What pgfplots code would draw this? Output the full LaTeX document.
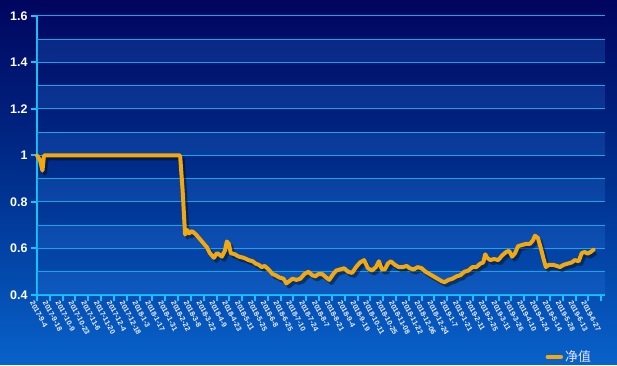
\documentclass[border=0pt]{standalone}
\usepackage{pgfplots}
\pgfplotsset{compat=1.18}
\usepackage{fontspec}
\setmainfont{Liberation Sans}
\newfontfamily\cjk{Noto Sans CJK SC}
\definecolor{bgtop}{HTML}{00055E}
\definecolor{bgmid}{HTML}{00308E}
\definecolor{bgbot}{HTML}{0862CA}
\definecolor{bandc}{HTML}{2A78E0}
\definecolor{gridc}{HTML}{14A6E6}
\definecolor{axc}{HTML}{12C4F8}
\definecolor{linec}{HTML}{F2A80E}
\pgfplotstableread{
x y
0.000 1.000
0.233 0.980
0.426 0.935
0.543 1.000
11.163 1.000
11.357 0.850
11.550 0.660
11.705 0.680
11.860 0.665
12.093 0.675
12.403 0.660
12.713 0.640
13.023 0.620
13.256 0.605
13.488 0.580
13.798 0.560
14.031 0.580
14.186 0.575
14.419 0.565
14.651 0.590
14.806 0.630
14.961 0.620
15.116 0.580
15.426 0.575
15.736 0.565
16.124 0.560
16.512 0.550
16.822 0.545
17.054 0.535
17.287 0.530
17.519 0.520
17.752 0.525
18.062 0.510
18.372 0.490
18.605 0.485
18.915 0.475
19.225 0.470
19.457 0.450
19.690 0.460
19.922 0.470
20.233 0.465
20.543 0.470
20.853 0.490
21.163 0.500
21.473 0.485
21.705 0.480
21.938 0.490
22.248 0.490
22.558 0.475
22.791 0.465
23.101 0.490
23.333 0.505
23.643 0.510
23.953 0.515
24.264 0.500
24.574 0.495
24.884 0.520
25.194 0.540
25.504 0.550
25.814 0.515
26.124 0.505
26.434 0.520
26.667 0.545
26.899 0.510
27.132 0.510
27.364 0.535
27.597 0.545
27.907 0.530
28.217 0.520
28.527 0.520
28.837 0.525
29.070 0.515
29.380 0.510
29.690 0.520
30.000 0.515
30.310 0.500
30.620 0.490
30.930 0.480
31.240 0.470
31.550 0.460
31.783 0.455
32.093 0.465
32.403 0.470
32.713 0.480
33.023 0.485
33.333 0.500
33.643 0.505
33.953 0.520
34.264 0.520
34.574 0.535
34.806 0.540
34.961 0.575
35.116 0.560
35.349 0.550
35.659 0.555
35.969 0.550
36.279 0.570
36.589 0.585
36.822 0.590
37.054 0.565
37.287 0.580
37.519 0.610
37.829 0.615
38.140 0.620
38.450 0.620
38.682 0.635
38.837 0.655
39.070 0.645
39.302 0.600
39.535 0.550
39.690 0.520
39.922 0.530
40.233 0.530
40.543 0.525
40.775 0.520
41.085 0.530
41.395 0.535
41.705 0.540
41.938 0.550
42.248 0.545
42.481 0.580
42.713 0.585
42.946 0.578
43.178 0.585
43.411 0.595
}\navdata
\begin{document}
\begin{tikzpicture}
\shade[top color=bgtop, bottom color=bgbot, middle color=bgmid] (0,0) rectangle (617bp,365bp);
\begin{axis}[
  at={(37bp,70bp)}, anchor=south west,
  scale only axis, width=568bp, height=279bp,
  xmin=0, xmax=44.3, ymin=0.4, ymax=1.6,
  axis x line*=bottom, axis y line*=left,
  axis line style={draw=axc, line width=2bp},
  tick align=outside,
  major tick length=6bp,
  every tick/.style={draw=axc, line width=2bp},
  xtick={0,...,44},
  xticklabels={2017-9-4,2017-9-18,2017-10-9,2017-10-23,2017-11-6,2017-11-20,2017-12-4,2017-12-18,2018-1-3,2018-1-17,2018-1-31,2018-2-22,2018-3-8,2018-3-22,2018-4-9,2018-4-23,2018-5-11,2018-5-25,2018-6-8,2018-6-25,2018-7-10,2018-7-24,2018-8-7,2018-8-21,2018-9-4,2018-9-19,2018-10-11,2018-10-25,2018-11-08,2018-11-22,2018-12-06,2018-12-24,2019-1-7,2019-1-21,2019-2-11,2019-2-25,2019-3-11,2019-3-26,2019-4-10,2019-4-24,2019-5-14,2019-5-28,2019-6-13,2019-6-27,{}},
  xticklabel style={font=\fontsize{7.3}{8}\selectfont\bfseries, text=white!94!blue, rotate=-62, anchor=north west, inner sep=0.3pt, xshift=-2.5bp, yshift=-1.5bp},
  ytick={0.4,0.6,...,1.61},
  yticklabel style={font=\fontsize{12.5}{14}\selectfont\bfseries, text=white},
  /pgf/number format/assume math mode=true,
  legend style={at={(0.895,-0.222)}, anchor=west, draw=none, fill=none, text=white!90!blue, font=\cjk\fontsize{13}{15}\selectfont, inner sep=0pt},
  legend image code/.code={\draw[#1, line width=4.5bp, line cap=round] (0bp,0bp) -- (13bp,0bp);},
  clip=false,
]
\addplot[fill=bandc, fill opacity=0.25, draw=none, forget plot] coordinates {(0,0.4) (44.3,0.4) (44.3,0.5) (0,0.5)} -- cycle;
\addplot[fill=bandc, fill opacity=0.25, draw=none, forget plot] coordinates {(0,0.6) (44.3,0.6) (44.3,0.7) (0,0.7)} -- cycle;
\addplot[fill=bandc, fill opacity=0.25, draw=none, forget plot] coordinates {(0,0.8) (44.3,0.8) (44.3,0.9) (0,0.9)} -- cycle;
\addplot[fill=bandc, fill opacity=0.25, draw=none, forget plot] coordinates {(0,1.0) (44.3,1.0) (44.3,1.1) (0,1.1)} -- cycle;
\addplot[fill=bandc, fill opacity=0.25, draw=none, forget plot] coordinates {(0,1.2) (44.3,1.2) (44.3,1.3) (0,1.3)} -- cycle;
\addplot[fill=bandc, fill opacity=0.25, draw=none, forget plot] coordinates {(0,1.4) (44.3,1.4) (44.3,1.5) (0,1.5)} -- cycle;
\addplot[gridc, line width=1bp, forget plot] coordinates {(0,0.5) (44.3,0.5)};
\addplot[gridc, line width=1bp, forget plot] coordinates {(0,0.6) (44.3,0.6)};
\addplot[gridc, line width=1bp, forget plot] coordinates {(0,0.7) (44.3,0.7)};
\addplot[gridc, line width=1bp, forget plot] coordinates {(0,0.8) (44.3,0.8)};
\addplot[gridc, line width=1bp, forget plot] coordinates {(0,0.9) (44.3,0.9)};
\addplot[gridc, line width=1bp, forget plot] coordinates {(0,1.0) (44.3,1.0)};
\addplot[gridc, line width=1bp, forget plot] coordinates {(0,1.1) (44.3,1.1)};
\addplot[gridc, line width=1bp, forget plot] coordinates {(0,1.2) (44.3,1.2)};
\addplot[gridc, line width=1bp, forget plot] coordinates {(0,1.3) (44.3,1.3)};
\addplot[gridc, line width=1bp, forget plot] coordinates {(0,1.4) (44.3,1.4)};
\addplot[gridc, line width=1bp, forget plot] coordinates {(0,1.5) (44.3,1.5)};
\addplot[gridc, line width=1bp, forget plot] coordinates {(0,1.6) (44.3,1.6)};
\addplot[black, opacity=0.4, line width=4bp, line join=round, transform canvas={xshift=2.5bp, yshift=-3bp}, forget plot] table[x=x,y=y] {\navdata};
\addplot[linec, line width=4bp, line join=round, line cap=round] table[x=x,y=y] {\navdata};
\addlegendentry{净值}
\end{axis}
\useasboundingbox (0,0) rectangle (617bp,365bp);
\end{tikzpicture}
\end{document}
